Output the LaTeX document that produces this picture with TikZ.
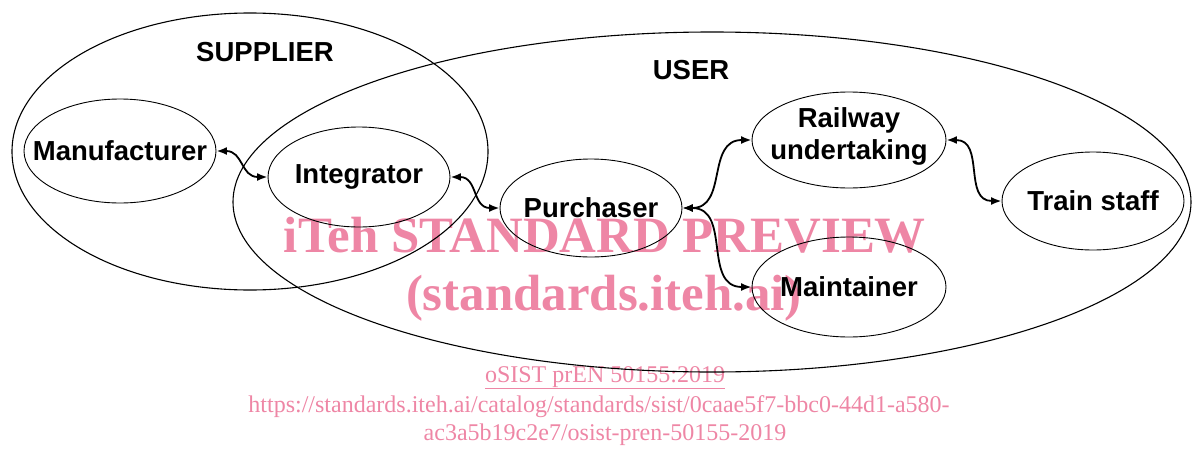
\documentclass[tikz,border=0pt]{standalone}
\usepackage{fontspec}
\setmainfont{Liberation Sans}
\newfontfamily\wmfont{Liberation Serif}
\usetikzlibrary{shapes.geometric,arrows.meta}
\definecolor{wmpink}{RGB}{238,134,165}
\tikzset{
    actor/.style={draw,ellipse,line width=0.9pt,inner sep=0pt},
    actortext/.style={align=center,inner sep=0pt,font=\bfseries\fontsize{27.5}{32}\selectfont},
    zone/.style={draw,ellipse,line width=1.1pt,inner sep=0pt},
    zonename/.style={font=\bfseries\fontsize{27.5}{33}\selectfont},
    link/.style={{Latex[length=10.5pt,width=8pt]}-{Latex[length=10.5pt,width=8pt]},line width=1.8pt,looseness=1.2},
    wmbig/.style={text=wmpink,anchor=base,font=\wmfont\bfseries\fontsize{50.9}{55}\selectfont},
    wmsmall/.style={text=wmpink,anchor=base,font=\wmfont\fontsize{24}{28}\selectfont},
  }
\begin{document}
\begin{tikzpicture}[x=1pt,y=-1pt]
				  %cadre = taille de l'image
				  \useasboundingbox (0,0) rectangle (1192,450);
				  %filigrane (sous le schema)
				  \node[wmbig](wm1) at (605,252) {iTeh STANDARD PREVIEW};
				  \node[wmbig](wm2) at (604,310) {(standards.iteh.ai)};
				  \node[wmsmall](wm3) at (605,382) {\underline{oSIST prEN 50155:2019}};
				  \node[wmsmall](wm4) at (599,412) {https://standards.iteh.ai/catalog/standards/sist/0caae5f7-bbc0-44d1-a580-};
				  \node[wmsmall](wm5) at (605,440) {ac3a5b19c2e7/osist-pren-50155-2019};

				  %zones
				  \node[zone,minimum width=476pt,minimum height=277pt](supplier) at (250,151.5) {};
				  \node[zone,minimum width=958pt,minimum height=340pt](user) at (712,202) {};
				  \node[zonename](suppliername) at (265,52) {SUPPLIER};
				  \node[zonename](username) at (691,70) {USER};

				  %acteurs (texte en label pour garder la taille de l'ellipse)
				  \node[actor,minimum width=192pt,minimum height=104pt,label={[actortext]center:Manufacturer}](manu) at (120,151) {};
				  \node[actor,minimum width=182pt,minimum height=100pt,label={[actortext]center:Integrator}](integ) at (359,177) {};
				  \node[actor,minimum width=182pt,minimum height=98pt,label={[actortext]center:Purchaser}](purch) at (591,208) {};
				  \node[actor,minimum width=194pt,minimum height=96pt,label={[actortext,yshift=4pt]center:Railway\\undertaking}](rail) at (849,140) {};
				  \node[actor,minimum width=194pt,minimum height=100pt,label={[actortext]center:Maintainer}](maint) at (849,287) {};
				  \node[actor,minimum width=182pt,minimum height=98pt,label={[actortext]center:Train staff}](train) at (1093,201) {};

				  \draw[link] (manu.east) to[out=0,in=180] (integ.west);
				  \draw[link] (integ.east) to[out=0,in=180] (purch.west);
				  \draw[link] (purch.east) to[out=0,in=180] (rail.west);
				  \draw[link] (purch.east) to[out=0,in=180] (maint.west);
				  \draw[link] (rail.east) to[out=0,in=180] (train.west);
\end{tikzpicture}
\end{document}
